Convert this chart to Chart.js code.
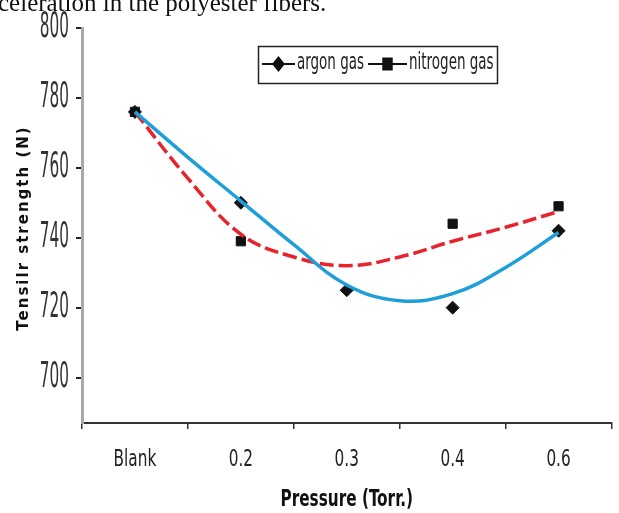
<!DOCTYPE html>
<html>
<head>
<meta charset="utf-8">
<script src="https://cdn.jsdelivr.net/npm/chart.js@4.4.0/dist/chart.umd.min.js"></script>
<style>
  html, body { margin: 0; padding: 0; background: #fff; }
  #wrap { position: relative; width: 619px; height: 513px; overflow: hidden; }
  #caption { position: absolute; left: -2px; top: -11px; font: 25px "Liberation Serif", serif; color: #111; white-space: nowrap; }
  canvas { position: absolute; left: 0; top: 0; }
</style>
</head>
<body>
<div id="wrap">
  <canvas id="myChart" width="619" height="513"></canvas>
  <div id="caption">celeration in the polyester fibers.</div>
</div>
<script>
// data
var categories = ["Blank", "0.2", "0.3", "0.4", "0.6"];
var argonGas = [776, 750, 725, 720, 742];
var nitrogenGas = [776, 739, null, 744, 749];

// trend curves, read at half-category steps
var trendSteps = [0, 0.5, 1, 1.5, 2, 2.5, 3, 3.5, 4];
var argonTrend = [776, 763, 750.5, 738, 726.5, 722, 724, 731.5, 741.5];
var nitrogenTrend = [776, 757, 741, 734.5, 732, 734.5, 739, 743, 747.5];

var yTicks = [700, 720, 740, 760, 780, 800];

var narrow = "'Liberation Sans Narrow', 'DejaVu Sans Condensed', 'Liberation Sans', sans-serif";

var toPoints = (xs, ys) => xs.map((x, i) => ({ x: x, y: ys[i] }));

// text drawn squeezed (tall and narrow), like the original
var tallText = (c, text, x, y, font, sy, align) => {
  c.save();
  c.font = font;
  c.textAlign = align || "center";
  c.textBaseline = "middle";
  c.translate(x, y);
  c.scale(1, sy);
  c.fillText(text, 0, 0);
  c.restore();
};

var axisText = {
  id: "axisText",
  afterDraw: chart => {
    var c = chart.ctx;
    var sx = chart.scales.x;
    var sy = chart.scales.y;
    c.save();
    c.fillStyle = "#333";
    yTicks.forEach(v => {
      tallText(c, String(v), 69, sy.getPixelForValue(v), "17px " + narrow, 2.1, "right");
    });
    c.fillStyle = "#222";
    categories.forEach((lab, i) => {
      tallText(c, lab, sx.getPixelForValue(i), 460, "17px " + narrow, 1.35);
    });
    c.fillStyle = "#111";
    tallText(c, "Pressure (Torr.)", (sx.left + sx.right) / 2, 500, "bold 17px " + narrow, 1.3);
    // y axis title
    c.translate(24, 228);
    c.rotate(-Math.PI / 2);
    c.font = "bold 15px 'DejaVu Sans', sans-serif";
    c.letterSpacing = "2px";
    c.textAlign = "center";
    c.textBaseline = "middle";
    c.fillText("Tensilr strength (N)", 0, 0);
    c.restore();
  }
};

// boxed legend with line + marker
var legendBox = {
  id: "legendBox",
  afterDraw: chart => {
    var c = chart.ctx;
    c.save();
    c.strokeStyle = "#222";
    c.lineWidth = 1.5;
    c.strokeRect(258.5, 46.5, 239, 37);
    var items = [
      { x: 262, w: 33, text: "argon gas", style: "rectRot", r: 5 },
      { x: 368, w: 39, text: "nitrogen gas", style: "rect", r: 6 }
    ];
    items.forEach(it => {
      c.strokeStyle = "#111";
      c.fillStyle = "#111";
      c.lineWidth = 2;
      c.beginPath();
      c.moveTo(it.x, 64);
      c.lineTo(it.x + it.w, 64);
      c.stroke();
      c.save();
      c.translate(it.x + it.w / 2, 64);
      c.scale(1, 1.25);
      Chart.helpers.drawPoint(c, { pointStyle: it.style, radius: it.r, borderWidth: 1 }, 0, 0);
      c.restore();
      c.fillStyle = "#222";
      tallText(c, it.text, it.x + it.w + 2, 63, "15px " + narrow, 1.5, "left");
    });
    c.restore();
  }
};

var ctx = document.getElementById("myChart");
var chart = new Chart(ctx, {
  type: "scatter",
  data: {
    datasets: [
      {
        label: "argon trend",
        data: toPoints(trendSteps, argonTrend),
        showLine: true,
        borderColor: "#1e9fd9",
        borderWidth: 3.5,
        pointRadius: 0,
        tension: 0.4
      },
      {
        label: "nitrogen trend",
        data: toPoints(trendSteps, nitrogenTrend),
        showLine: true,
        borderColor: "#e8232b",
        borderWidth: 3.5,
        borderDash: [14, 5],
        pointRadius: 0,
        tension: 0.4
      },
      {
        label: "nitrogen gas",
        data: toPoints([0, 1, 2, 3, 4], nitrogenGas),
        pointStyle: "rect",
        pointRadius: 6.5,
        backgroundColor: "#111",
        borderColor: "#111"
      },
      {
        label: "argon gas",
        data: toPoints([0, 1, 2, 3, 4], argonGas),
        pointStyle: "rectRot",
        pointRadius: 6.5,
        backgroundColor: "#111",
        borderColor: "#111"
      }
    ]
  },
  options: {
    responsive: false,
    animation: false,
    layout: { padding: { top: 28, right: 2, left: 0, bottom: 0 } },
    plugins: { legend: { display: false }, tooltip: { enabled: false } },
    scales: {
      x: {
        type: "linear",
        min: -0.5,
        max: 4.5,
        afterBuildTicks: axis => {
          var t = [];
          for (var i = -0.5; i <= 4.5; i += 0.5) t.push({ value: i });
          axis.ticks = t;
        },
        afterFit: scale => { scale.height = 90; },
        grid: {
          drawOnChartArea: false,
          tickLength: 6,
          lineWidth: 1.5,
          color: c => (c.tick && c.tick.value % 1 !== 0) ? "#333" : "rgba(0,0,0,0)"
        },
        border: { color: "#333", width: 2 },
        ticks: { autoSkip: false, maxRotation: 0, callback: () => "" }
      },
      y: {
        min: 687,
        max: 800,
        afterBuildTicks: axis => { axis.ticks = yTicks.map(v => ({ value: v })); },
        afterFit: scale => { scale.width = 82; },
        grid: { drawOnChartArea: false, tickLength: 6, lineWidth: 2, color: "#222" },
        border: { color: "#a8a8a8", width: 3 },
        ticks: { callback: () => "" }
      }
    }
  },
  plugins: [axisText, legendBox]
});
</script>
</body>
</html>
